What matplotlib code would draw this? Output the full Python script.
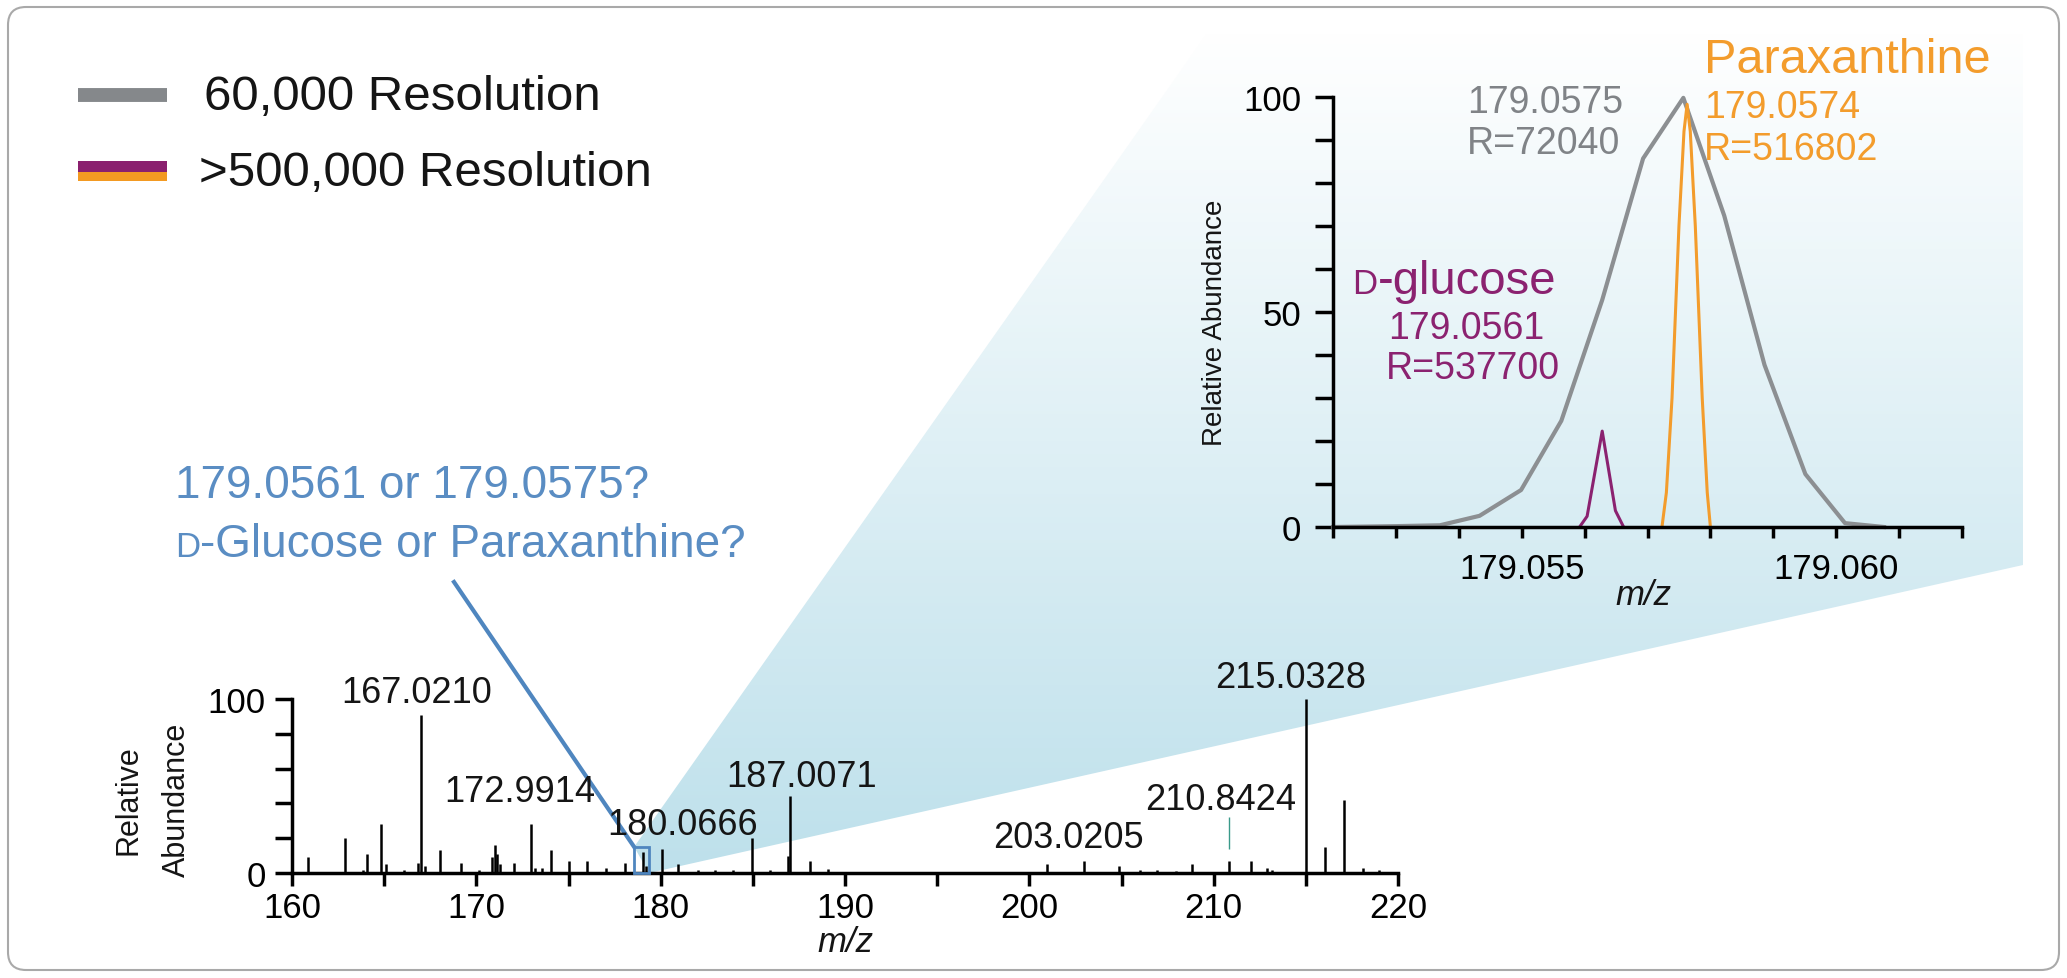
import numpy as np
import matplotlib.pyplot as plt
from matplotlib import font_manager
from matplotlib.patches import Rectangle, Polygon, FancyBboxPatch
from matplotlib.colors import LinearSegmentedColormap
from matplotlib.ticker import FixedLocator, MultipleLocator, FormatStrFormatter

W, H = 2067, 979

available = {f.name for f in font_manager.fontManager.ttflist}
NARROW = 'Liberation Sans Narrow' if 'Liberation Sans Narrow' in available else 'Liberation Sans'
plt.rcParams['font.family'] = ['Liberation Sans', 'DejaVu Sans']

# full scan spectrum (m/z, relative abundance)
scan_mz = [160.85, 162.86, 163.87, 164.07, 164.84, 165.08, 166.05, 166.83, 167.02, 167.20,
           168.04, 169.15, 170.12, 170.85, 171.00, 171.14, 171.26, 172.06, 172.99, 173.20,
           173.56, 174.04, 175.01, 175.98, 177.02, 178.04, 179.06, 179.20, 180.07, 180.94,
           182.03, 182.95, 183.92, 184.98, 185.91, 186.90, 187.01, 188.10, 189.10,
           200.98, 202.98, 204.88, 205.98, 206.95, 207.93, 208.83, 210.85, 212.02, 212.88,
           213.17, 215.03, 216.05, 217.07, 218.10, 218.98]
scan_int = [9, 20, 1.5, 11, 28, 5, 1.5, 6, 91, 4,
            13, 6, 1.5, 9, 16, 11, 5, 6, 28, 3,
            3, 13, 7, 7, 3, 6, 12, 4, 14, 5,
            1.5, 2, 2, 20, 2, 10, 44, 7, 2.5,
            5, 7, 4, 1.5, 2, 1, 5, 7, 7, 3,
            2, 100, 15, 42, 3, 2]

peak_text = ['167.0210', '172.9914', '180.0666', '187.0071', '203.0205', '210.8424', '215.0328']
peak_text_mz = [166.78, 172.35, 181.19, 187.65, 202.10, 210.40, 214.17]
peak_text_int = [98, 41.5, 22.4, 50.2, 14.9, 36.8, 107]

# zoomed region around m/z 179.056
gray_mz = [179.0520, 179.0530, 179.0537, 179.05433, 179.05499, 179.05563, 179.05628,
           179.05693, 179.05757, 179.05822, 179.05886, 179.05951, 179.06014, 179.06076]
gray_int = [0, 0.2, 0.4, 2.6, 8.6, 24.7, 52.8, 85.7, 99.8, 72.4, 37.7, 12.3, 0.9, 0]

glucose_mz = [179.05592, 179.05604, 179.05628, 179.05649, 179.05662]
glucose_int = [0, 2.5, 22.3, 3.8, 0]

para_mz = [179.05723, 179.05730, 179.05739, 179.05750, 179.05758, 179.05763,
           179.05768, 179.05776, 179.05787, 179.05795, 179.05800]
para_int = [0, 8, 30, 70, 92, 98.3, 92, 70, 30, 8, 0]

GRAY = '#8c8f92'
PURPLE = '#8b2270'
ORANGE = '#f39c2c'
BLUE = '#4f86bf'
QBLUE = '#5a8dc3'
INK = '#151515'

fig = plt.figure(figsize=(W / 100, H / 100), dpi=100)

# background layer in pixel coords (y down)
bg = fig.add_axes([0, 0, 1, 1])
bg.set_xlim(0, W)
bg.set_ylim(H, 0)
bg.axis('off')


def fig_rect(x0, y0, x1, y1):
    return [x0 / W, 1 - y1 / H, (x1 - x0) / W, (y1 - y0) / H]


ax = fig.add_axes(fig_rect(292, 700, 1398, 874))
ins = fig.add_axes(fig_rect(1333, 98, 1962, 528))
for a in (ax, ins):
    a.patch.set_alpha(0)
    a.spines[['top', 'right']].set_visible(False)
    a.spines[['left', 'bottom']].set_linewidth(2.5)

ax.set_xlim(160, 220)
ax.set_ylim(0, 100)
ins.set_xlim(179.052, 179.062)
ins.set_ylim(0, 100)

bg.add_patch(FancyBboxPatch((8, 8), W - 16, H - 16, boxstyle='round,pad=0,rounding_size=18',
                            ec='#a9a9a9', fc='none', lw=1.5, zorder=3))


def to_bg(a, x, y):
    px, py = a.transData.transform((x, y))
    return px, H - py


# zoom box and wedge
box_x0, box_x1, box_top = 178.56, 179.37, 15
tl = to_bg(ax, box_x0, box_top)
br = to_bg(ax, box_x1, 0)
wedge = Polygon([tl, (1210, 30), (2023, 30), (2023, 566), br], closed=True, fc='none', ec='none')
bg.add_patch(wedge)
cmap = LinearSegmentedColormap.from_list('wedge', ['#ffffff', '#bde0eb'])
im = bg.imshow(np.linspace(0, 1, 256)[:, None], cmap=cmap, extent=(0, W, 880, 30),
               origin='upper', aspect='auto', interpolation='bilinear', zorder=0)
im.set_clip_path(wedge)
bg.set_xlim(0, W)
bg.set_ylim(H, 0)

ax.add_patch(Rectangle((box_x0, 0), box_x1 - box_x0, box_top, fill=False, ec=BLUE, lw=2,
                       clip_on=False, zorder=5))
bg.plot([454, tl[0]], [583, tl[1]], color=BLUE, lw=3)

# legend
bg.plot([78, 167], [96, 96], color='#85888b', lw=10, solid_capstyle='butt')
bg.add_patch(Rectangle((78, 162), 89, 11, color='#8a1f6e', lw=0))
bg.add_patch(Rectangle((78, 173), 89, 9, color='#f39a22', lw=0))
bg.text(204, 98, '60,000 Resolution', fontsize=35.5, va='center', color=INK)
bg.text(199, 174, '>500,000 Resolution', fontsize=35.5, va='center', color=INK)

# question
bg.text(175, 498, '179.0561 or 179.0575?', color=QBLUE, fontsize=33, va='baseline')
d1 = bg.text(175, 557, 'D', color=QBLUE, fontsize=25, va='baseline')
bg.annotate('-Glucose or Paraxanthine?', xy=(1, 557), xycoords=(d1, 'data'),
            color=QBLUE, fontsize=33, va='baseline')

# full scan
ax.vlines(scan_mz, 0, scan_int, color='black', lw=1.8, clip_on=False)
ax.vlines(210.8424, 13.8, 32, color='#3a9a8a', lw=1)
for t, x, y in zip(peak_text, peak_text_mz, peak_text_int):
    ax.text(x, y, t, ha='center', va='baseline', fontsize=26, color=INK)

ax.set_xticks(range(160, 221, 10))
ax.xaxis.set_minor_locator(FixedLocator(range(165, 220, 10)))
ax.tick_params(axis='x', which='both', length=9, width=2.5, labelsize=25, pad=4)
ax.set_yticks([0, 20, 40, 60, 80, 100])
ax.set_yticklabels(['0', '', '', '', '', '100'])
ax.tick_params(axis='y', length=12, width=2.5, labelsize=25, pad=7)
bg.text(153, 800, 'Relative\nAbundance', rotation=90, ha='center', va='center',
        fontsize=22, family=NARROW, linespacing=1.8, color=INK)
bg.text(845, 943, 'm/z', style='italic', fontsize=25, ha='center', va='center', color=INK)

# zoomed inset
ins.plot(gray_mz, gray_int, color=GRAY, lw=3, clip_on=False)
ins.plot(glucose_mz, glucose_int, color=PURPLE, lw=2.2)
ins.plot(para_mz, para_int, color=ORANGE, lw=2.2)

ins.xaxis.set_major_locator(FixedLocator([179.055, 179.060]))
ins.xaxis.set_minor_locator(MultipleLocator(0.001))
ins.xaxis.set_major_formatter(FormatStrFormatter('%.3f'))
ins.tick_params(axis='x', which='both', length=8, width=2.5, labelsize=25, pad=10)
ins.set_yticks(range(0, 101, 10))
ins.set_yticklabels(['0', '', '', '', '', '50', '', '', '', '', '100'])
ins.tick_params(axis='y', length=13, width=2.5, labelsize=25, pad=10)
bg.text(1215, 323, 'Relative Abundance', rotation=90, ha='center', va='center',
        fontsize=20, family=NARROW, color=INK)
bg.text(1643, 596, 'm/z', style='italic', fontsize=25, ha='center', va='center', color=INK)

ins.text(179.05413, 98.8, '179.0575', color='#808387', fontsize=27, va='center')
ins.text(179.05413, 89.4, 'R=72040', color='#808387', fontsize=27, va='center')
ins.text(179.0579, 108.7, 'Paraxanthine', color=ORANGE, fontsize=35, va='center')
ins.text(179.0579, 97.6, '179.0574', color=ORANGE, fontsize=27, va='center')
ins.text(179.0579, 87.9, 'R=516802', color=ORANGE, fontsize=27, va='center')
d2 = ins.text(179.05231, 54.5, 'D', color=PURPLE, fontsize=25, va='baseline')
ins.annotate('-glucose', xy=(1, 54.5), xycoords=(d2, 'data'), color=PURPLE,
             fontsize=34, va='baseline')
ins.text(179.05288, 46.2, '179.0561', color=PURPLE, fontsize=27, va='center')
ins.text(179.05284, 37.0, 'R=537700', color=PURPLE, fontsize=27, va='center')

fig.savefig('out.png', dpi=100)
